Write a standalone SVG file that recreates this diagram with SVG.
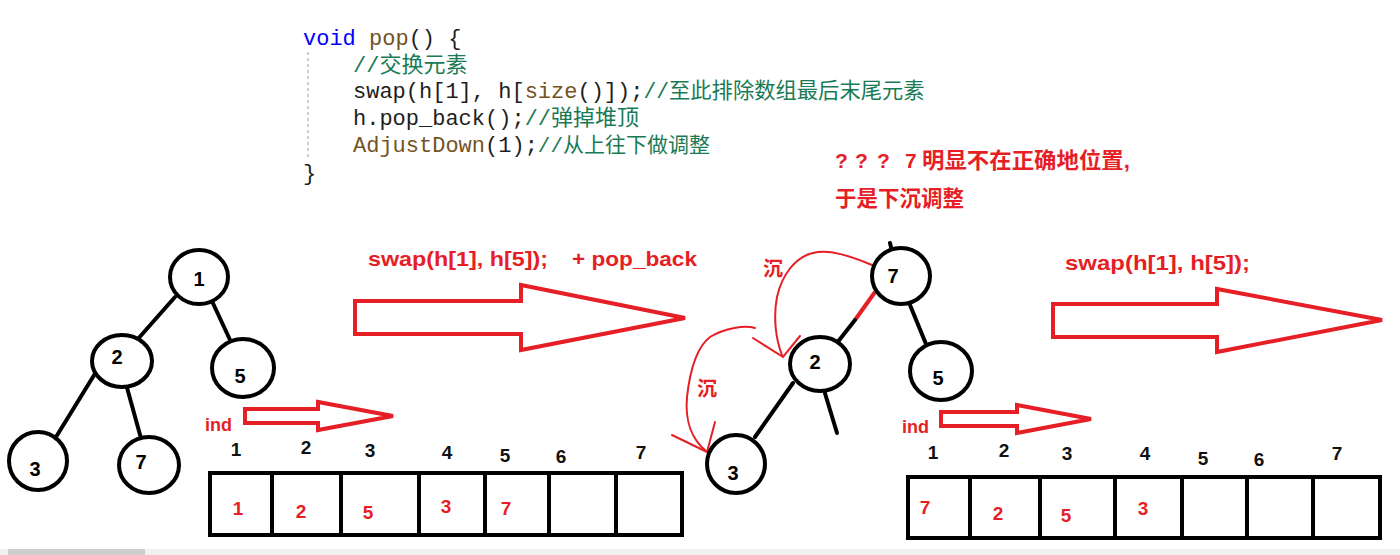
<svg xmlns="http://www.w3.org/2000/svg" width="1400" height="555" viewBox="0 0 1400 555">
<style>
.code{font-family:"Liberation Mono","Noto Sans CJK SC",monospace;font-size:22px;fill:#1e1e1e}
.kw{fill:#0000ff}.fn{fill:#74531f}.cm{fill:#1a7a55}
.rt{font-family:"Liberation Sans","Noto Sans CJK SC",sans-serif;font-weight:bold;fill:#e61e25}
.nl{font-family:"Liberation Sans",sans-serif;font-weight:bold;font-size:20px;fill:#000;text-anchor:middle}
.idx{font-family:"Liberation Sans",sans-serif;font-weight:bold;font-size:19px;fill:#111;text-anchor:middle}
.val{font-family:"Liberation Sans",sans-serif;font-weight:bold;font-size:19px;fill:#e61e25;text-anchor:middle}
.node{fill:#fff;stroke:#000;stroke-width:4}
.edge{stroke:#000;stroke-width:4;fill:none;stroke-linecap:round}
.redl{stroke:#e61e25;stroke-width:2;fill:none;stroke-linecap:round}
.bigarrow{fill:#fff;stroke:#e61e25;stroke-width:4;stroke-linejoin:miter}
.arr{fill:none;stroke:#000;stroke-width:4}
</style>
<rect width="1400" height="555" fill="#fff"/>

<g id="code">
<line x1="308" y1="52" x2="308" y2="160" stroke="#999" stroke-width="1" stroke-dasharray="3,3"/>
<text class="code" x="303" y="45"><tspan class="kw">void</tspan> <tspan class="fn">pop</tspan>() {</text>
<text class="code cm" x="353" y="72">//交换元素</text>
<text class="code" x="353" y="98">swap(h[1], h[<tspan class="fn">size</tspan>()]);<tspan class="cm" font-size="21.3">//至此排除数组最后末尾元素</tspan></text>
<text class="code" x="353" y="125">h.pop_back();<tspan class="cm">//弹掉堆顶</tspan></text>
<text class="code" x="353" y="152"><tspan class="fn">AdjustDown</tspan>(1);<tspan class="cm" font-size="21">//从上往下做调整</tspan></text>
<text class="code" x="303" y="180">}</text>
</g>

<g id="notes">
<text class="rt" y="168" font-size="21"><tspan x="835">?</tspan><tspan x="855">?</tspan><tspan x="877">?</tspan><tspan x="905">7</tspan><tspan x="922" font-size="22" textLength="208" lengthAdjust="spacingAndGlyphs">明显不在正确地位置,</tspan></text>
<text class="rt" x="835" y="206" font-size="21.5">于是下沉调整</text>
<text class="rt" x="368" y="266" font-size="21" textLength="180" lengthAdjust="spacingAndGlyphs">swap(h[1], h[5]);</text>
<text class="rt" x="572" y="266" font-size="21" textLength="125" lengthAdjust="spacingAndGlyphs">+ pop_back</text>
<text class="rt" x="1065" y="270" font-size="21" textLength="185" lengthAdjust="spacingAndGlyphs">swap(h[1], h[5]);</text>
</g>

<g id="connectors">
<line class="edge" x1="175" y1="297" x2="137" y2="340"/>
<line class="edge" x1="211" y1="299" x2="231" y2="342"/>
<line class="edge" x1="96" y1="372" x2="56" y2="437"/>
<line class="edge" x1="126" y1="384" x2="142" y2="442"/>
<line class="edge" x1="890" y1="243" x2="893" y2="255"/>
<line x1="875" y1="292" x2="855" y2="320" stroke="#e61e25" stroke-width="4"/>
<line class="edge" x1="855" y1="320" x2="833" y2="348"/>
<line class="edge" x1="910" y1="305" x2="926" y2="344"/>
<line class="edge" x1="793" y1="383" x2="755" y2="437"/>
<line class="edge" x1="824" y1="390" x2="837" y2="433"/>
<path class="redl" d="M872,265 C850,256 830,249 813,253 C795,257 782,275 777,297 C773,318 776,340 782,355"/>
<path class="redl" d="M753,338 L783,357 L800,336"/>
<path class="redl" d="M755,328 C745,325 725,328 710,337 C697,347 690,370 687,397 C685,420 690,438 707,452"/>
<path class="redl" d="M672,435 L707,452 L715,422"/>
<polygon class="bigarrow" points="355,301 521,301 521,285 685,318 521,350 521,334 355,334"/>
<polygon class="bigarrow" points="1053,304 1217,304 1217,289 1382,320 1217,352 1217,337 1053,337"/>
<polygon class="bigarrow" points="245,409 318,409 318,402 393,416 318,430 318,423 245,423"/>
<polygon class="bigarrow" points="941,412 1017,412 1017,405 1091,419 1017,433 1017,426 941,426"/>
</g>

<g id="tree1-n1"><ellipse class="node" cx="199" cy="277" rx="29" ry="27"/><text class="nl" x="199" y="286">1</text></g>
<g id="tree1-n2"><ellipse class="node" cx="122" cy="361" rx="30" ry="26"/><text class="nl" x="117" y="364">2</text></g>
<g id="tree1-n5"><ellipse class="node" cx="243" cy="368" rx="31" ry="29"/><text class="nl" x="240" y="383">5</text></g>
<g id="tree1-n3"><ellipse class="node" cx="38" cy="461" rx="29" ry="29"/><text class="nl" x="35" y="476">3</text></g>
<g id="tree1-n7"><ellipse class="node" cx="149" cy="465" rx="30" ry="28"/><text class="nl" x="141" y="469">7</text></g>

<g id="tree2-n7"><ellipse class="node" cx="901" cy="276" rx="29" ry="28"/><text class="nl" x="893" y="283">7</text></g>
<g id="tree2-n2"><ellipse class="node" cx="820" cy="364" rx="30" ry="27"/><text class="nl" x="815" y="369">2</text></g>
<g id="tree2-n5"><ellipse class="node" cx="941" cy="371" rx="31" ry="29"/><text class="nl" x="938" y="385">5</text></g>
<g id="tree2-n3"><ellipse class="node" cx="736" cy="464" rx="29" ry="29"/><text class="nl" x="733" y="480">3</text></g>

<g id="sink-labels">
<text class="rt" x="763" y="276" font-size="20">沉</text>
<text class="rt" x="697" y="396" font-size="20">沉</text>
</g>

<g id="array1">
<text class="rt" x="205" y="431" font-size="18">ind</text>
<text class="idx" x="236" y="456">1</text>
<text class="idx" x="306" y="454">2</text>
<text class="idx" x="370" y="457">3</text>
<text class="idx" x="447" y="459">4</text>
<text class="idx" x="505" y="462">5</text>
<text class="idx" x="561" y="463">6</text>
<text class="idx" x="641" y="459">7</text>
<rect class="arr" x="210" y="473" width="472" height="62"/>
<path class="arr" d="M272,473V535M341,473V535M419,473V535M485,473V535M549,473V535M616,473V535"/>
<text class="val" x="238" y="515">1</text>
<text class="val" x="301" y="518">2</text>
<text class="val" x="368" y="519">5</text>
<text class="val" x="446" y="513">3</text>
<text class="val" x="506" y="515">7</text>
</g>

<g id="array2">
<text class="rt" x="902" y="433" font-size="18">ind</text>
<text class="idx" x="933" y="459">1</text>
<text class="idx" x="1004" y="457">2</text>
<text class="idx" x="1067" y="460">3</text>
<text class="idx" x="1145" y="460">4</text>
<text class="idx" x="1203" y="465">5</text>
<text class="idx" x="1259" y="466">6</text>
<text class="idx" x="1337" y="460">7</text>
<rect class="arr" x="908" y="477" width="472" height="61"/>
<path class="arr" d="M970,477V538M1040,477V538M1115,477V538M1182,477V538M1247,477V538M1313,477V538"/>
<text class="val" x="925" y="514">7</text>
<text class="val" x="998" y="520">2</text>
<text class="val" x="1066" y="522">5</text>
<text class="val" x="1143" y="515">3</text>
</g>

<g id="scrollbar">
<rect x="0" y="549" width="1400" height="6" fill="#f1f1f1"/>
<rect x="8" y="549" width="137" height="6" fill="#cdcdcd"/>
</g>
</svg>
